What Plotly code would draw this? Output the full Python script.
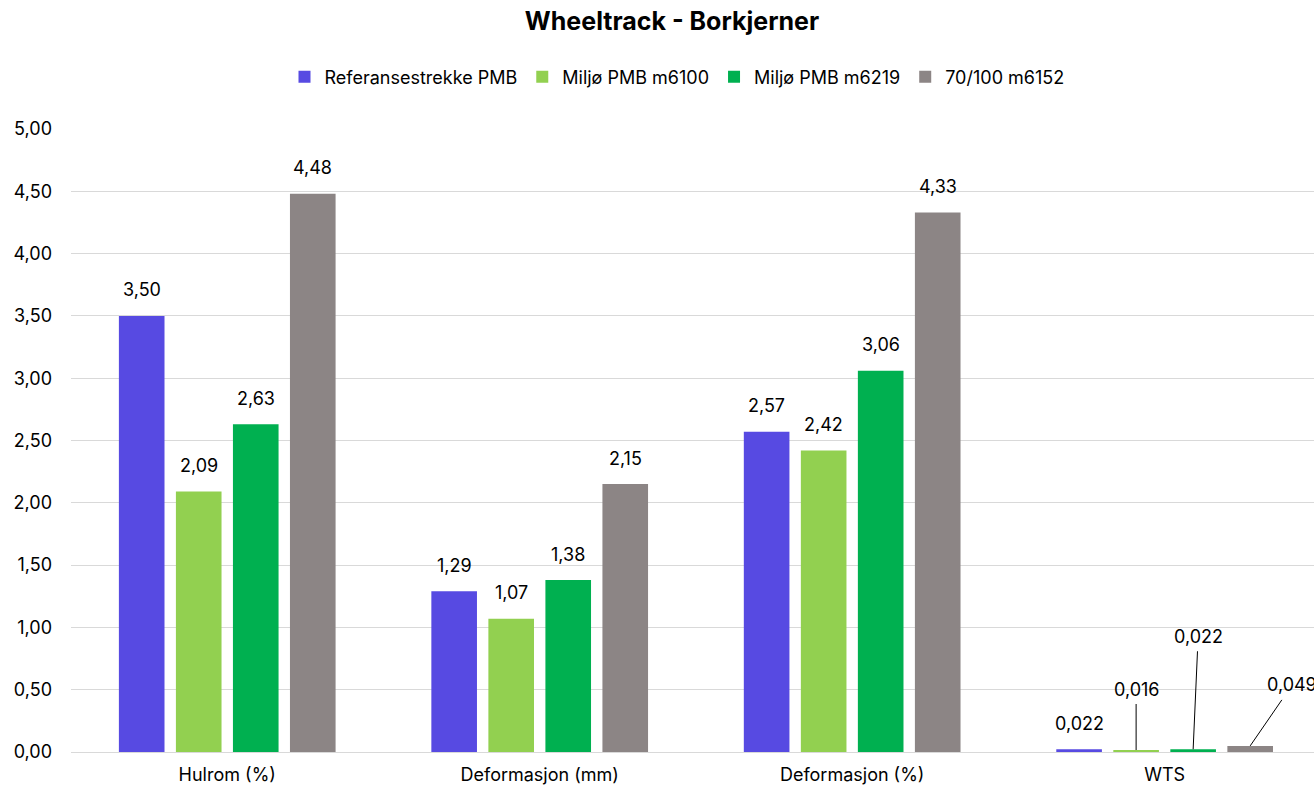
import plotly.graph_objects as go

categories = ["Hulrom (%)", "Deformasjon (mm)", "Deformasjon (%)", "WTS"]
series_names = ["Referansestrekke PMB", "Miljø PMB m6100", "Miljø PMB m6219", "70/100 m6152"]
ref_pmb = [3.50, 1.29, 2.57, 0.022]
miljo_6100 = [2.09, 1.07, 2.42, 0.016]
miljo_6219 = [2.63, 1.38, 3.06, 0.022]
b70_100 = [4.48, 2.15, 4.33, 0.049]
series_values = [ref_pmb, miljo_6100, miljo_6219, b70_100]
colors = ["#574AE2", "#92D050", "#00B050", "#8C8585"]
y_ticks = [0, 0.5, 1, 1.5, 2, 2.5, 3, 3.5, 4, 4.5, 5]

FONT = "Inter"
FS = 18

fig = go.Figure()
for name, vals, col in zip(series_names, series_values, colors):
    fig.add_trace(go.Bar(x=categories, y=vals, name=name, marker_color=col,
                         marker_line_width=0))

# label geometry (pixel offsets within a category group)
cat_px = 312.5
slot_px = cat_px * (1 - 0.27) / 4
offsets = [(i - 1.5) * slot_px for i in range(4)]

def fmt(v, cat):
    if cat == "WTS":
        return f"{v:.3f}".replace(".", ",")
    return f"{v:.2f}".replace(".", ",")

# leader-line label offsets for WTS (text offset in px from bar top)
wts_label = {0: None, 1: (0, -61), 2: (5, -113), 3: (42, -61)}

for i, vals in enumerate(series_values):
    for j, cat in enumerate(categories):
        v = vals[j]
        if cat == "WTS" and wts_label[i] is not None:
            ax, ay = wts_label[i]
            fig.add_annotation(x=cat, y=v, xshift=offsets[i], text=fmt(v, cat),
                               showarrow=True, arrowhead=0, arrowwidth=1,
                               arrowcolor="#000000", ax=ax, ay=ay, standoff=0,
                               borderpad=4,
                               font=dict(family=FONT, size=FS, color="#000000"))
        else:
            fig.add_annotation(x=cat, y=v, xshift=offsets[i], yshift=26,
                               text=fmt(v, cat), showarrow=False,
                               font=dict(family=FONT, size=FS, color="#000000"))

fig.update_layout(
    width=1314, height=786,
    paper_bgcolor="white", plot_bgcolor="white",
    separators=",.",
    font=dict(family=FONT, size=FS, color="#000000"),
    title=dict(text="<b>Wheeltrack - Borkjerner</b>", x=672 / 1314, xref="container",
               xanchor="center", y=1 - 21 / 786, yref="container", yanchor="middle",
               font=dict(family=FONT, size=25, color="#000000")),
    barmode="group", bargap=0.27, bargroupgap=0.2,
    margin=dict(l=71, r=0, t=129, b=34),
    showlegend=True,
    legend=dict(orientation="h", x=677 / 1314, xref="container", xanchor="center",
                y=1 - 77 / 786, yref="container", yanchor="middle",
                font=dict(family=FONT, size=FS, color="#000000"),
                itemwidth=30, traceorder="normal"),
    xaxis=dict(range=[-0.5, 3.478], showgrid=False, showline=False,
               ticks="", ticklabelstandoff=10,
               tickfont=dict(family=FONT, size=FS, color="#000000")),
    yaxis=dict(range=[0, 5], tickvals=y_ticks, tickformat=".2f",
               showgrid=True, gridcolor="#D9D9D9", gridwidth=1,
               zeroline=True, zerolinecolor="#D9D9D9", zerolinewidth=1,
               showline=False, ticks="", ticklabelstandoff=18,
               tickfont=dict(family=FONT, size=FS, color="#000000")),
)

fig.write_html("out.html", config={"displayModeBar": False},
               post_script="document.body.style.margin='0';document.body.style.overflow='hidden';")
